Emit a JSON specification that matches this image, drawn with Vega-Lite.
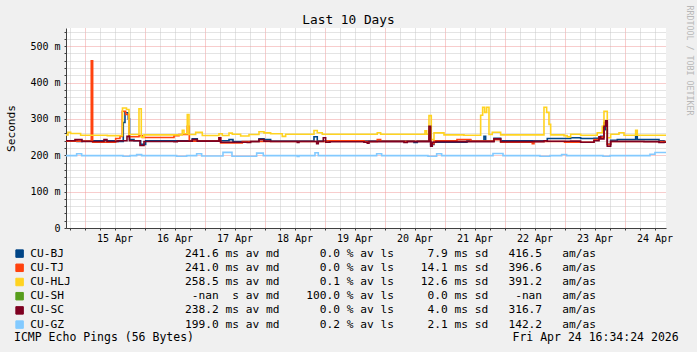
{
  "$schema": "https://vega.github.io/schema/vega-lite/v6.json",
  "width": 600,
  "height": 200,
  "autosize": {"type": "none"},
  "padding": {"left": 66, "top": 28, "right": 31, "bottom": 124},
  "background": "#f0f0f0",
  "config": {
    "view": {"fill": "#ffffff", "stroke": null},
    "font": "DejaVu Sans Mono"
  },
  "title": {
    "text": "Last 10 Days",
    "font": "DejaVu Sans Mono",
    "fontSize": 12.8,
    "fontWeight": "normal",
    "color": "#000000",
    "anchor": "middle",
    "dx": -17.5,
    "dy": 36,
    "offset": 4,
    "baseline": "alphabetic"
  },
  "data": {
    "values": [
      {"s":"CU-BJ","t":"2026-04-14T16:34:24Z","v":0.240},
      {"s":"CU-BJ","t":"2026-04-14T20:58Z","v":0.238},
      {"s":"CU-BJ","t":"2026-04-14T22:58Z","v":0.240},
      {"s":"CU-BJ","t":"2026-04-15T12:58Z","v":0.238},
      {"s":"CU-BJ","t":"2026-04-15T15:29Z","v":0.290},
      {"s":"CU-BJ","t":"2026-04-15T16:10Z","v":0.317},
      {"s":"CU-BJ","t":"2026-04-15T17:29Z","v":0.300},
      {"s":"CU-BJ","t":"2026-04-15T17:58Z","v":0.243},
      {"s":"CU-BJ","t":"2026-04-15T19:46Z","v":0.240},
      {"s":"CU-BJ","t":"2026-04-15T22:26Z","v":0.230},
      {"s":"CU-BJ","t":"2026-04-16T00:26Z","v":0.240},
      {"s":"CU-BJ","t":"2026-04-16T19:05Z","v":0.245},
      {"s":"CU-BJ","t":"2026-04-16T21:05Z","v":0.240},
      {"s":"CU-BJ","t":"2026-04-17T09:46Z","v":0.243},
      {"s":"CU-BJ","t":"2026-04-17T11:22Z","v":0.238},
      {"s":"CU-BJ","t":"2026-04-17T21:46Z","v":0.245},
      {"s":"CU-BJ","t":"2026-04-17T23:46Z","v":0.243},
      {"s":"CU-BJ","t":"2026-04-18T02:26Z","v":0.239},
      {"s":"CU-BJ","t":"2026-04-18T19:46Z","v":0.251},
      {"s":"CU-BJ","t":"2026-04-18T21:05Z","v":0.239},
      {"s":"CU-BJ","t":"2026-04-20T11:46Z","v":0.235},
      {"s":"CU-BJ","t":"2026-04-20T13:05Z","v":0.239},
      {"s":"CU-BJ","t":"2026-04-20T18:26Z","v":0.230},
      {"s":"CU-BJ","t":"2026-04-20T19:46Z","v":0.236},
      {"s":"CU-BJ","t":"2026-04-21T08:58Z","v":0.2415},
      {"s":"CU-BJ","t":"2026-04-21T10:34Z","v":0.239},
      {"s":"CU-BJ","t":"2026-04-21T15:46Z","v":0.252},
      {"s":"CU-BJ","t":"2026-04-21T16:26Z","v":0.239},
      {"s":"CU-BJ","t":"2026-04-21T19:46Z","v":0.247},
      {"s":"CU-BJ","t":"2026-04-21T22:26Z","v":0.240},
      {"s":"CU-BJ","t":"2026-04-22T17:05Z","v":0.246},
      {"s":"CU-BJ","t":"2026-04-23T02:26Z","v":0.248},
      {"s":"CU-BJ","t":"2026-04-23T06:26Z","v":0.246},
      {"s":"CU-BJ","t":"2026-04-23T11:46Z","v":0.247},
      {"s":"CU-BJ","t":"2026-04-23T14:26Z","v":0.252},
      {"s":"CU-BJ","t":"2026-04-23T15:46Z","v":0.285},
      {"s":"CU-BJ","t":"2026-04-23T16:26Z","v":0.270},
      {"s":"CU-BJ","t":"2026-04-23T17:05Z","v":0.230},
      {"s":"CU-BJ","t":"2026-04-23T18:26Z","v":0.2415},
      {"s":"CU-BJ","t":"2026-04-23T21:05Z","v":0.243},
      {"s":"CU-BJ","t":"2026-04-24T04:26Z","v":0.254},
      {"s":"CU-BJ","t":"2026-04-24T05:05Z","v":0.243},
      {"s":"CU-BJ","t":"2026-04-24T13:46Z","v":0.240},
      {"s":"CU-BJ","t":"2026-04-24T15:46Z","v":0.238},
      {"s":"CU-BJ","t":"2026-04-24T16:34:24Z","v":0.238},

      {"s":"CU-TJ","t":"2026-04-14T16:34:24Z","v":0.239},
      {"s":"CU-TJ","t":"2026-04-15T02:41Z","v":0.460},
      {"s":"CU-TJ","t":"2026-04-15T03:14Z","v":0.236},
      {"s":"CU-TJ","t":"2026-04-15T12:26Z","v":0.246},
      {"s":"CU-TJ","t":"2026-04-15T14:10Z","v":0.252},
      {"s":"CU-TJ","t":"2026-04-15T15:05Z","v":0.321},
      {"s":"CU-TJ","t":"2026-04-15T16:26Z","v":0.312},
      {"s":"CU-TJ","t":"2026-04-15T17:46Z","v":0.251},
      {"s":"CU-TJ","t":"2026-04-15T21:46Z","v":0.254},
      {"s":"CU-TJ","t":"2026-04-15T23:05Z","v":0.249},
      {"s":"CU-TJ","t":"2026-04-16T11:46Z","v":0.254},
      {"s":"CU-TJ","t":"2026-04-16T13:46Z","v":0.257},
      {"s":"CU-TJ","t":"2026-04-16T17:05Z","v":0.280},
      {"s":"CU-TJ","t":"2026-04-16T17:53Z","v":0.239},
      {"s":"CU-TJ","t":"2026-04-17T05:46Z","v":0.248},
      {"s":"CU-TJ","t":"2026-04-17T06:26Z","v":0.234},
      {"s":"CU-TJ","t":"2026-04-17T15:05Z","v":0.238},
      {"s":"CU-TJ","t":"2026-04-19T00:58Z","v":0.240},
      {"s":"CU-TJ","t":"2026-04-19T15:46Z","v":0.238},
      {"s":"CU-TJ","t":"2026-04-19T21:05Z","v":0.243},
      {"s":"CU-TJ","t":"2026-04-19T22:26Z","v":0.2385},
      {"s":"CU-TJ","t":"2026-04-20T17:46Z","v":0.265},
      {"s":"CU-TJ","t":"2026-04-20T18:34Z","v":0.232},
      {"s":"CU-TJ","t":"2026-04-20T19:46Z","v":0.240},
      {"s":"CU-TJ","t":"2026-04-21T04:58Z","v":0.243},
      {"s":"CU-TJ","t":"2026-04-21T10:26Z","v":0.239},
      {"s":"CU-TJ","t":"2026-04-21T19:46Z","v":0.243},
      {"s":"CU-TJ","t":"2026-04-21T22:26Z","v":0.236},
      {"s":"CU-TJ","t":"2026-04-22T11:05Z","v":0.232},
      {"s":"CU-TJ","t":"2026-04-22T11:46Z","v":0.238},
      {"s":"CU-TJ","t":"2026-04-23T00:00Z","v":0.236},
      {"s":"CU-TJ","t":"2026-04-23T11:46Z","v":0.243},
      {"s":"CU-TJ","t":"2026-04-23T13:46Z","v":0.250},
      {"s":"CU-TJ","t":"2026-04-23T15:46Z","v":0.290},
      {"s":"CU-TJ","t":"2026-04-23T17:05Z","v":0.230},
      {"s":"CU-TJ","t":"2026-04-23T18:26Z","v":0.238},
      {"s":"CU-TJ","t":"2026-04-24T16:34:24Z","v":0.238},

      {"s":"CU-HLJ","t":"2026-04-14T16:34:24Z","v":0.256},
      {"s":"CU-HLJ","t":"2026-04-14T17:22Z","v":0.2635},
      {"s":"CU-HLJ","t":"2026-04-14T18:26Z","v":0.260},
      {"s":"CU-HLJ","t":"2026-04-14T22:26Z","v":0.255},
      {"s":"CU-HLJ","t":"2026-04-15T09:05Z","v":0.254},
      {"s":"CU-HLJ","t":"2026-04-15T15:10Z","v":0.330},
      {"s":"CU-HLJ","t":"2026-04-15T16:46Z","v":0.326},
      {"s":"CU-HLJ","t":"2026-04-15T17:46Z","v":0.257},
      {"s":"CU-HLJ","t":"2026-04-15T21:46Z","v":0.328},
      {"s":"CU-HLJ","t":"2026-04-15T22:41Z","v":0.250},
      {"s":"CU-HLJ","t":"2026-04-15T23:46Z","v":0.256},
      {"s":"CU-HLJ","t":"2026-04-16T15:05Z","v":0.269},
      {"s":"CU-HLJ","t":"2026-04-16T15:46Z","v":0.259},
      {"s":"CU-HLJ","t":"2026-04-16T17:05Z","v":0.312},
      {"s":"CU-HLJ","t":"2026-04-16T17:46Z","v":0.257},
      {"s":"CU-HLJ","t":"2026-04-16T20:26Z","v":0.263},
      {"s":"CU-HLJ","t":"2026-04-16T23:05Z","v":0.2545},
      {"s":"CU-HLJ","t":"2026-04-17T05:46Z","v":0.259},
      {"s":"CU-HLJ","t":"2026-04-17T07:05Z","v":0.2545},
      {"s":"CU-HLJ","t":"2026-04-17T09:46Z","v":0.261},
      {"s":"CU-HLJ","t":"2026-04-17T11:05Z","v":0.258},
      {"s":"CU-HLJ","t":"2026-04-17T14:26Z","v":0.253},
      {"s":"CU-HLJ","t":"2026-04-17T17:46Z","v":0.257},
      {"s":"CU-HLJ","t":"2026-04-17T21:46Z","v":0.2645},
      {"s":"CU-HLJ","t":"2026-04-17T23:46Z","v":0.2617},
      {"s":"CU-HLJ","t":"2026-04-18T02:26Z","v":0.259},
      {"s":"CU-HLJ","t":"2026-04-18T07:05Z","v":0.252},
      {"s":"CU-HLJ","t":"2026-04-18T08:26Z","v":0.258},
      {"s":"CU-HLJ","t":"2026-04-18T19:46Z","v":0.268},
      {"s":"CU-HLJ","t":"2026-04-18T21:05Z","v":0.262},
      {"s":"CU-HLJ","t":"2026-04-18T23:05Z","v":0.258},
      {"s":"CU-HLJ","t":"2026-04-19T21:05Z","v":0.262},
      {"s":"CU-HLJ","t":"2026-04-19T22:26Z","v":0.258},
      {"s":"CU-HLJ","t":"2026-04-20T16:10Z","v":0.267},
      {"s":"CU-HLJ","t":"2026-04-20T16:50Z","v":0.258},
      {"s":"CU-HLJ","t":"2026-04-20T17:46Z","v":0.309},
      {"s":"CU-HLJ","t":"2026-04-20T18:41Z","v":0.243},
      {"s":"CU-HLJ","t":"2026-04-20T19:46Z","v":0.2617},
      {"s":"CU-HLJ","t":"2026-04-20T23:46Z","v":0.256},
      {"s":"CU-HLJ","t":"2026-04-21T07:46Z","v":0.255},
      {"s":"CU-HLJ","t":"2026-04-21T14:26Z","v":0.310},
      {"s":"CU-HLJ","t":"2026-04-21T15:14Z","v":0.332},
      {"s":"CU-HLJ","t":"2026-04-21T16:02Z","v":0.318},
      {"s":"CU-HLJ","t":"2026-04-21T16:50Z","v":0.332},
      {"s":"CU-HLJ","t":"2026-04-21T17:46Z","v":0.257},
      {"s":"CU-HLJ","t":"2026-04-21T19:05Z","v":0.2635},
      {"s":"CU-HLJ","t":"2026-04-21T22:26Z","v":0.256},
      {"s":"CU-HLJ","t":"2026-04-22T15:46Z","v":0.332},
      {"s":"CU-HLJ","t":"2026-04-22T16:50Z","v":0.318},
      {"s":"CU-HLJ","t":"2026-04-22T17:46Z","v":0.285},
      {"s":"CU-HLJ","t":"2026-04-22T18:26Z","v":0.256},
      {"s":"CU-HLJ","t":"2026-04-22T23:46Z","v":0.254},
      {"s":"CU-HLJ","t":"2026-04-23T01:05Z","v":0.2507},
      {"s":"CU-HLJ","t":"2026-04-23T02:26Z","v":0.258},
      {"s":"CU-HLJ","t":"2026-04-23T06:26Z","v":0.255},
      {"s":"CU-HLJ","t":"2026-04-23T13:05Z","v":0.262},
      {"s":"CU-HLJ","t":"2026-04-23T15:05Z","v":0.280},
      {"s":"CU-HLJ","t":"2026-04-23T15:46Z","v":0.321},
      {"s":"CU-HLJ","t":"2026-04-23T17:05Z","v":0.248},
      {"s":"CU-HLJ","t":"2026-04-23T18:26Z","v":0.258},
      {"s":"CU-HLJ","t":"2026-04-23T21:46Z","v":0.262},
      {"s":"CU-HLJ","t":"2026-04-23T23:46Z","v":0.255},
      {"s":"CU-HLJ","t":"2026-04-24T04:26Z","v":0.269},
      {"s":"CU-HLJ","t":"2026-04-24T05:05Z","v":0.255},
      {"s":"CU-HLJ","t":"2026-04-24T16:34:24Z","v":0.255},

      {"s":"CU-SC","t":"2026-04-14T16:34:24Z","v":0.240},
      {"s":"CU-SC","t":"2026-04-14T20:10Z","v":0.243},
      {"s":"CU-SC","t":"2026-04-14T22:58Z","v":0.238},
      {"s":"CU-SC","t":"2026-04-15T07:46Z","v":0.243},
      {"s":"CU-SC","t":"2026-04-15T08:58Z","v":0.238},
      {"s":"CU-SC","t":"2026-04-15T13:22Z","v":0.240},
      {"s":"CU-SC","t":"2026-04-15T16:58Z","v":0.252},
      {"s":"CU-SC","t":"2026-04-15T17:58Z","v":0.240},
      {"s":"CU-SC","t":"2026-04-15T22:10Z","v":0.227},
      {"s":"CU-SC","t":"2026-04-15T23:46Z","v":0.238},
      {"s":"CU-SC","t":"2026-04-16T11:46Z","v":0.237},
      {"s":"CU-SC","t":"2026-04-16T13:05Z","v":0.239},
      {"s":"CU-SC","t":"2026-04-16T19:05Z","v":0.243},
      {"s":"CU-SC","t":"2026-04-16T21:05Z","v":0.239},
      {"s":"CU-SC","t":"2026-04-17T05:46Z","v":0.248},
      {"s":"CU-SC","t":"2026-04-17T06:26Z","v":0.236},
      {"s":"CU-SC","t":"2026-04-17T17:05Z","v":0.235},
      {"s":"CU-SC","t":"2026-04-17T18:26Z","v":0.238},
      {"s":"CU-SC","t":"2026-04-17T21:46Z","v":0.243},
      {"s":"CU-SC","t":"2026-04-17T23:46Z","v":0.239},
      {"s":"CU-SC","t":"2026-04-18T02:26Z","v":0.238},
      {"s":"CU-SC","t":"2026-04-18T13:05Z","v":0.235},
      {"s":"CU-SC","t":"2026-04-18T13:46Z","v":0.238},
      {"s":"CU-SC","t":"2026-04-18T20:50Z","v":0.2315},
      {"s":"CU-SC","t":"2026-04-18T21:29Z","v":0.238},
      {"s":"CU-SC","t":"2026-04-18T23:29Z","v":0.248},
      {"s":"CU-SC","t":"2026-04-19T00:26Z","v":0.236},
      {"s":"CU-SC","t":"2026-04-19T02:10Z","v":0.237},
      {"s":"CU-SC","t":"2026-04-19T15:46Z","v":0.236},
      {"s":"CU-SC","t":"2026-04-19T17:05Z","v":0.233},
      {"s":"CU-SC","t":"2026-04-19T17:46Z","v":0.2375},
      {"s":"CU-SC","t":"2026-04-20T07:46Z","v":0.235},
      {"s":"CU-SC","t":"2026-04-20T09:05Z","v":0.2375},
      {"s":"CU-SC","t":"2026-04-20T17:46Z","v":0.280},
      {"s":"CU-SC","t":"2026-04-20T18:26Z","v":0.225},
      {"s":"CU-SC","t":"2026-04-20T19:05Z","v":0.236},
      {"s":"CU-SC","t":"2026-04-20T20:34Z","v":0.2375},
      {"s":"CU-SC","t":"2026-04-21T19:46Z","v":0.245},
      {"s":"CU-SC","t":"2026-04-21T22:26Z","v":0.2375},
      {"s":"CU-SC","t":"2026-04-22T15:46Z","v":0.240},
      {"s":"CU-SC","t":"2026-04-22T17:05Z","v":0.2387},
      {"s":"CU-SC","t":"2026-04-23T02:26Z","v":0.239},
      {"s":"CU-SC","t":"2026-04-23T06:26Z","v":0.236},
      {"s":"CU-SC","t":"2026-04-23T11:46Z","v":0.240},
      {"s":"CU-SC","t":"2026-04-23T13:46Z","v":0.251},
      {"s":"CU-SC","t":"2026-04-23T14:26Z","v":0.245},
      {"s":"CU-SC","t":"2026-04-23T15:46Z","v":0.280},
      {"s":"CU-SC","t":"2026-04-23T16:26Z","v":0.295},
      {"s":"CU-SC","t":"2026-04-23T17:05Z","v":0.225},
      {"s":"CU-SC","t":"2026-04-23T18:26Z","v":0.238},
      {"s":"CU-SC","t":"2026-04-24T07:46Z","v":0.237},
      {"s":"CU-SC","t":"2026-04-24T13:46Z","v":0.235},
      {"s":"CU-SC","t":"2026-04-24T15:46Z","v":0.236},
      {"s":"CU-SC","t":"2026-04-24T16:34:24Z","v":0.236},

      {"s":"CU-GZ","t":"2026-04-14T16:34:24Z","v":0.199},
      {"s":"CU-GZ","t":"2026-04-14T20:50Z","v":0.204},
      {"s":"CU-GZ","t":"2026-04-14T22:50Z","v":0.199},
      {"s":"CU-GZ","t":"2026-04-15T15:22Z","v":0.1975},
      {"s":"CU-GZ","t":"2026-04-15T18:10Z","v":0.199},
      {"s":"CU-GZ","t":"2026-04-15T20:50Z","v":0.2017},
      {"s":"CU-GZ","t":"2026-04-15T22:50Z","v":0.199},
      {"s":"CU-GZ","t":"2026-04-16T12:50Z","v":0.1975},
      {"s":"CU-GZ","t":"2026-04-16T16:50Z","v":0.199},
      {"s":"CU-GZ","t":"2026-04-16T20:50Z","v":0.204},
      {"s":"CU-GZ","t":"2026-04-16T22:50Z","v":0.198},
      {"s":"CU-GZ","t":"2026-04-17T07:22Z","v":0.208},
      {"s":"CU-GZ","t":"2026-04-17T10:58Z","v":0.1975},
      {"s":"CU-GZ","t":"2026-04-17T20:50Z","v":0.206},
      {"s":"CU-GZ","t":"2026-04-17T23:29Z","v":0.199},
      {"s":"CU-GZ","t":"2026-04-18T13:05Z","v":0.197},
      {"s":"CU-GZ","t":"2026-04-18T13:46Z","v":0.199},
      {"s":"CU-GZ","t":"2026-04-18T20:10Z","v":0.207},
      {"s":"CU-GZ","t":"2026-04-18T21:29Z","v":0.199},
      {"s":"CU-GZ","t":"2026-04-19T20:50Z","v":0.204},
      {"s":"CU-GZ","t":"2026-04-19T22:50Z","v":0.199},
      {"s":"CU-GZ","t":"2026-04-20T17:22Z","v":0.1975},
      {"s":"CU-GZ","t":"2026-04-20T20:50Z","v":0.204},
      {"s":"CU-GZ","t":"2026-04-20T22:50Z","v":0.199},
      {"s":"CU-GZ","t":"2026-04-21T19:22Z","v":0.205},
      {"s":"CU-GZ","t":"2026-04-21T23:22Z","v":0.199},
      {"s":"CU-GZ","t":"2026-04-22T14:10Z","v":0.1975},
      {"s":"CU-GZ","t":"2026-04-22T18:10Z","v":0.199},
      {"s":"CU-GZ","t":"2026-04-22T22:50Z","v":0.202},
      {"s":"CU-GZ","t":"2026-04-23T00:50Z","v":0.199},
      {"s":"CU-GZ","t":"2026-04-23T15:22Z","v":0.1975},
      {"s":"CU-GZ","t":"2026-04-23T18:10Z","v":0.199},
      {"s":"CU-GZ","t":"2026-04-24T10:10Z","v":0.203},
      {"s":"CU-GZ","t":"2026-04-24T12:10Z","v":0.2076},
      {"s":"CU-GZ","t":"2026-04-24T16:34:24Z","v":0.2076}
    ]
  },
  "layer": [
    {
      "mark": {"type": "line", "interpolate": "step-after", "strokeWidth": 1.6},
      "encoding": {
        "x": {
          "field": "t",
          "type": "temporal",
          "scale": {
            "type": "utc",
            "domain": [1776184464000, 1777048464000]
          },
          "axis": {
            "orient": "bottom",
            "title": null,
            "values": {"expr": "[1776189600000,1776211200000,1776232800000,1776254400000,1776276000000,1776297600000,1776319200000,1776340800000,1776362400000,1776384000000,1776405600000,1776427200000,1776448800000,1776470400000,1776492000000,1776513600000,1776535200000,1776556800000,1776578400000,1776600000000,1776621600000,1776643200000,1776664800000,1776686400000,1776708000000,1776729600000,1776751200000,1776772800000,1776794400000,1776816000000,1776837600000,1776859200000,1776880800000,1776902400000,1776924000000,1776945600000,1776967200000,1776988800000,1777010400000,1777032000000]"},
            "grid": true,
            "gridColor": {"condition": {"test": "utchours(datum.value) == 0", "value": "#f09a9a"}, "value": "#c8c8c8"},
            "gridDash": [1, 1],
            "gridWidth": 1,
            "domainColor": "#404040",
            "tickColor": "#404040",
            "tickSize": 2,
            "labelExpr": "utchours(datum.value) == 0 ? utcFormat(datum.value, '%d %b') : ''",
            "labelOffset": 30,
            "labelFont": "DejaVu Sans Mono",
            "labelFontSize": 10,
            "labelColor": "#000000",
            "labelPadding": 3,
            "labelOverlap": false
          }
        },
        "y": {
          "field": "v",
          "type": "quantitative",
          "scale": {"domain": [0, 0.55], "nice": false, "zero": true},
          "axis": {
            "orient": "left",
            "values": [0,0.02,0.04,0.06,0.08,0.1,0.12,0.14,0.16,0.18,0.2,0.22,0.24,0.26,0.28,0.3,0.32,0.34,0.36,0.38,0.4,0.42,0.44,0.46,0.48,0.5,0.52,0.54],
            "grid": true,
            "gridColor": {"condition": {"test": "abs(datum.value*10 - round(datum.value*10)) < 0.001", "value": "#f09a9a"}, "value": "#c8c8c8"},
            "gridDash": [1, 1],
            "gridWidth": 1,
            "domainColor": "#404040",
            "tickColor": "#404040",
            "tickSize": 2,
            "labelExpr": "datum.value == 0 ? '0\u00a0\u00a0' : (abs(datum.value*10 - round(datum.value*10)) < 0.001 ? format(datum.value*1000, 'd') + '\u00a0m' : '')",
            "labelFont": "DejaVu Sans Mono",
            "labelFontSize": 10,
            "labelColor": "#000000",
            "labelPadding": 4,
            "labelOverlap": false,
            "labelBaseline": "middle",
            "title": "Seconds",
            "titleFont": "DejaVu Sans Mono",
            "titleFontSize": 11.2,
            "titleFontWeight": "normal",
            "titleColor": "#000000",
            "titleAngle": -90,
            "titleX": -55,
            "titleY": 100,
            "titleAlign": "center",
            "titleBaseline": "middle"
          }
        },
        "color": {
          "field": "s",
          "type": "nominal",
          "scale": {
            "domain": ["CU-BJ", "CU-TJ", "CU-HLJ", "CU-SH", "CU-SC", "CU-GZ"],
            "range": ["#004586", "#ff420e", "#ffd320", "#579d1c", "#7e0021", "#83caff"]
          },
          "legend": {
            "orient": "none",
            "legendX": -52,
            "legendY": 220,
            "direction": "vertical",
            "padding": 0,
            "symbolType": "square",
            "symbolSize": 56,
            "symbolStrokeWidth": 1,
            "labelOffset": 5,
            "labelFont": "DejaVu Sans Mono",
            "labelFontSize": 11.2,
            "labelColor": "#000000",
            "labelLimit": 2000,
            "labelBaseline": "middle",
            "rowPadding": 1.2,
            "labelExpr": "datum.label == 'CU-BJ' ? 'CU-BJ\u00a0\u00a0\u00a0\u00a0\u00a0\u00a0\u00a0\u00a0\u00a0\u00a0\u00a0\u00a0\u00a0\u00a0\u00a0\u00a0\u00a0\u00a0241.6\u00a0ms\u00a0av\u00a0md\u00a0\u00a0\u00a0\u00a0\u00a0\u00a00.0\u00a0%\u00a0av\u00a0ls\u00a0\u00a0\u00a0\u00a0\u00a07.9\u00a0ms\u00a0sd\u00a0\u00a0\u00a0416.5\u00a0\u00a0\u00a0am/as' : datum.label == 'CU-TJ' ? 'CU-TJ\u00a0\u00a0\u00a0\u00a0\u00a0\u00a0\u00a0\u00a0\u00a0\u00a0\u00a0\u00a0\u00a0\u00a0\u00a0\u00a0\u00a0\u00a0241.0\u00a0ms\u00a0av\u00a0md\u00a0\u00a0\u00a0\u00a0\u00a0\u00a00.0\u00a0%\u00a0av\u00a0ls\u00a0\u00a0\u00a0\u00a014.1\u00a0ms\u00a0sd\u00a0\u00a0\u00a0396.6\u00a0\u00a0\u00a0am/as' : datum.label == 'CU-HLJ' ? 'CU-HLJ\u00a0\u00a0\u00a0\u00a0\u00a0\u00a0\u00a0\u00a0\u00a0\u00a0\u00a0\u00a0\u00a0\u00a0\u00a0\u00a0\u00a0258.5\u00a0ms\u00a0av\u00a0md\u00a0\u00a0\u00a0\u00a0\u00a0\u00a00.1\u00a0%\u00a0av\u00a0ls\u00a0\u00a0\u00a0\u00a012.6\u00a0ms\u00a0sd\u00a0\u00a0\u00a0391.2\u00a0\u00a0\u00a0am/as' : datum.label == 'CU-SH' ? 'CU-SH\u00a0\u00a0\u00a0\u00a0\u00a0\u00a0\u00a0\u00a0\u00a0\u00a0\u00a0\u00a0\u00a0\u00a0\u00a0\u00a0\u00a0\u00a0\u00a0-nan\u00a0\u00a0s\u00a0av\u00a0md\u00a0\u00a0\u00a0\u00a0100.0\u00a0%\u00a0av\u00a0ls\u00a0\u00a0\u00a0\u00a0\u00a00.0\u00a0ms\u00a0sd\u00a0\u00a0\u00a0\u00a0-nan\u00a0\u00a0\u00a0am/as' : datum.label == 'CU-SC' ? 'CU-SC\u00a0\u00a0\u00a0\u00a0\u00a0\u00a0\u00a0\u00a0\u00a0\u00a0\u00a0\u00a0\u00a0\u00a0\u00a0\u00a0\u00a0\u00a0238.2\u00a0ms\u00a0av\u00a0md\u00a0\u00a0\u00a0\u00a0\u00a0\u00a00.0\u00a0%\u00a0av\u00a0ls\u00a0\u00a0\u00a0\u00a0\u00a04.0\u00a0ms\u00a0sd\u00a0\u00a0\u00a0316.7\u00a0\u00a0\u00a0am/as' : 'CU-GZ\u00a0\u00a0\u00a0\u00a0\u00a0\u00a0\u00a0\u00a0\u00a0\u00a0\u00a0\u00a0\u00a0\u00a0\u00a0\u00a0\u00a0\u00a0199.0\u00a0ms\u00a0av\u00a0md\u00a0\u00a0\u00a0\u00a0\u00a0\u00a00.2\u00a0%\u00a0av\u00a0ls\u00a0\u00a0\u00a0\u00a0\u00a02.1\u00a0ms\u00a0sd\u00a0\u00a0\u00a0142.2\u00a0\u00a0\u00a0am/as'",
            "title": "ICMP\u00a0Echo\u00a0Pings\u00a0(56\u00a0Bytes)\u00a0\u00a0\u00a0\u00a0\u00a0\u00a0\u00a0\u00a0\u00a0\u00a0\u00a0\u00a0\u00a0\u00a0\u00a0\u00a0\u00a0\u00a0\u00a0\u00a0\u00a0\u00a0\u00a0\u00a0\u00a0\u00a0\u00a0\u00a0\u00a0\u00a0\u00a0\u00a0\u00a0\u00a0\u00a0\u00a0\u00a0\u00a0\u00a0\u00a0\u00a0\u00a0\u00a0\u00a0\u00a0\u00a0Fri\u00a0Apr\u00a024\u00a016:34:24\u00a02026",
            "titleOrient": "bottom",
            "titleAnchor": "start",
            "titleAlign": "left",
            "titleBaseline": "top",
            "titlePadding": 2,
            "titleLimit": 2000,
            "titleFont": "DejaVu Sans Mono",
            "titleFontSize": 11.5,
            "titleFontWeight": "normal",
            "titleColor": "#000000",
            "encode": {
              "symbols": {
                "update": {
                  "fill": {"scale": "color", "field": "value"},
                  "stroke": {"value": "#000000"},
                  "strokeWidth": {"value": 1},
                  "opacity": {"value": 1},
                  "shape": {"value": "square"}
                }
              }
            }
          }
        }
      }
    },
    {
      "mark": {"type": "line", "opacity": 0},
      "encoding": {
        "y": {
          "field": "v",
          "type": "quantitative",
          "axis": {
            "orient": "right",
            "labels": false,
            "ticks": false,
            "domain": false,
            "grid": false,
            "title": "RRDTOOL / TOBI OETIKER",
            "titleFont": "DejaVu Sans Mono",
            "titleFontSize": 8.3,
            "titleFontWeight": "normal",
            "titleColor": "#b8b8b8",
            "titleAngle": 90,
            "titleX": 22,
            "titleY": -23,
            "titleAlign": "left",
            "titleBaseline": "middle"
          }
        }
      }
    }
  ],
  "resolve": {"axis": {"y": "independent"}}
}
